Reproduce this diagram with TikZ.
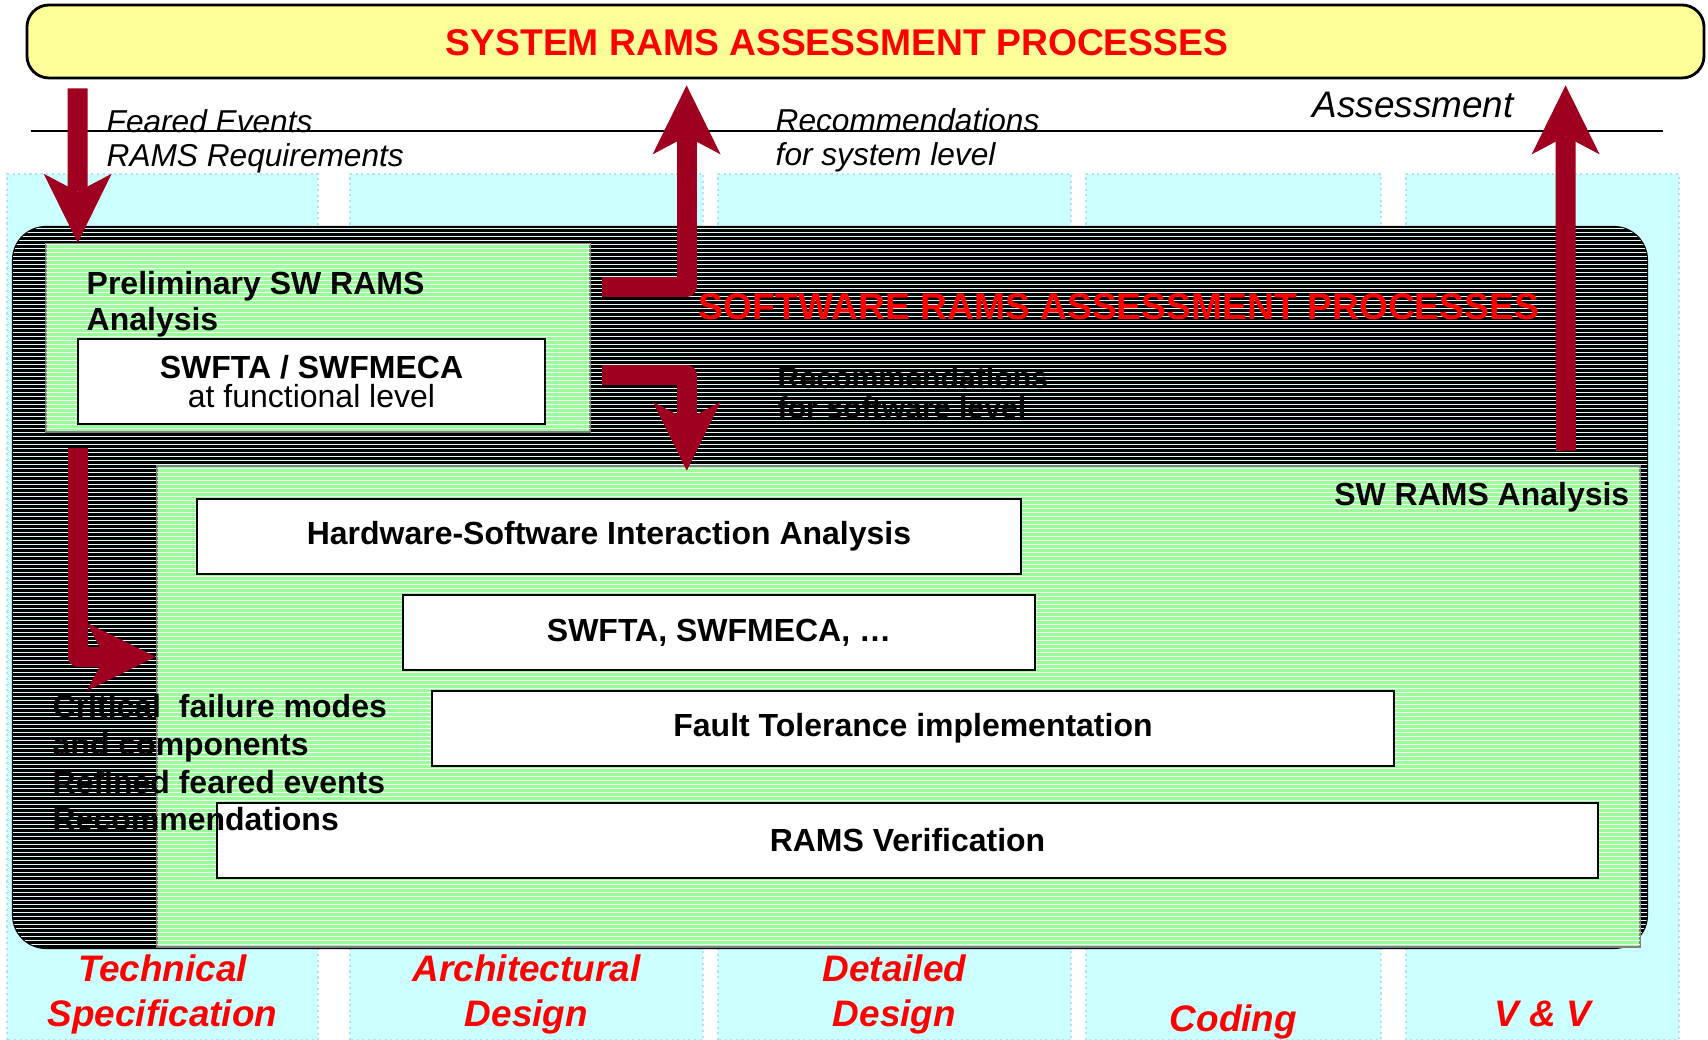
\documentclass[tikz,border=0pt]{standalone}
\usepackage{fontspec}
\setmainfont{Liberation Sans}
\usepackage{tikz}
\usetikzlibrary{arrows.meta,patterns.meta}
\definecolor{sysyellow}{HTML}{FFFF99}
\definecolor{phasecyan}{HTML}{CCFFFF}
\definecolor{phaseedge}{HTML}{B4DCFF}
\definecolor{swgreen}{HTML}{99FF99}
\definecolor{hatchline}{HTML}{DDFFFF}
\definecolor{arrowred}{HTML}{A00020}
\definecolor{titlered}{HTML}{FF0000}
\newcommand{\bodysize}{\fontsize{9.1pt}{10.8pt}\selectfont}
\newcommand{\titlesize}{\fontsize{10.6pt}{12.8pt}\selectfont}

\begin{document}
\begin{tikzpicture}[>=Stealth,
    phase/.style={fill=phasecyan,draw=phaseedge,densely dotted,line width=0.6pt},
    phaselbl/.style={align=center,anchor=south,inner sep=0pt,text depth=0pt,text=titlered,font=\fontsize{10.5pt}{12.8pt}\selectfont\bfseries\itshape},
    sysbox/.style={draw=black,line width=0.8pt,fill=sysyellow,rounded corners=0.22cm,minimum width=16.77cm,minimum height=0.73cm,inner sep=0pt},
    procbox/.style={draw=black,line width=0.6pt,fill=black,rounded corners=0.33cm,inner sep=0pt,
      postaction={pattern={Lines[angle=0,distance=1.138pt,line width=0.2pt]},pattern color=hatchline}},
    greenbox/.style={draw=gray,line width=0.7pt,fill=swgreen,inner sep=0pt,
      postaction={pattern={Lines[angle=0,distance=1.138pt,line width=0.22pt]},pattern color=white}},
    box/.style={draw=black,line width=0.7pt,fill=white,minimum height=0.75cm,inner sep=0pt,font=\bodysize\bfseries},
    bigtitle/.style={text=titlered,font=\titlesize\bfseries,inner sep=0pt,anchor=base},
    remark/.style={font=\fontsize{9pt}{9.7pt}\selectfont\itshape,align=left,anchor=base west,inner sep=0pt},
    bold/.style={font=\bodysize\bfseries,inner sep=0pt},
    blockarrow/.style={draw=arrowred,line width=0.2cm,line join=round,
      -{Stealth[length=0.69cm,width=0.68cm,inset=0.18cm,line width=0pt]}}]
  \useasboundingbox (0,0) rectangle (17.08,10.40);
  \foreach \xa/\xb/\yb/\lbl [count=\i] in {0.07/3.18/0.13/{Technical\\Specification},3.50/7.03/0.13/{Architectural\\Design},
      7.18/10.71/0.13/{Detailed\\Design},10.86/13.81/0.08/Coding,14.06/16.79/0.13/{V \& V}}{
    \draw[phase] (\xa,0) rectangle (\xb,8.66);
    \node[phaselbl] (phase\i) at ({(\xa+\xb)/2},\yb) {\lbl};
  }
  \node[sysbox] (sysbar) at (8.655,9.985) {};
  \node[bigtitle] (systitle) at (8.37,9.84) {SYSTEM RAMS ASSESSMENT PROCESSES};
  \draw[line width=0.6pt] (0.31,9.09) -- (16.63,9.09);
  \node[remark] (feared) at (1.06,8.73) {Feared Events\\RAMS Requirements};
  \node[remark] (recsys) at (7.75,8.74) {Recommendations\\for system level};
  \node[remark,font=\fontsize{10.5pt}{12pt}\selectfont\itshape,anchor=base] (assess) at (14.13,9.22) {Assessment};

  \node[procbox,minimum width=16.34cm,minimum height=7.21cm] (swproc) at (8.30,4.525) {};
  \node[bigtitle] (swtitle) at (11.19,7.20) {SOFTWARE RAMS ASSESSMENT PROCESSES};
  \node[bold,align=left,anchor=base west,font=\fontsize{8.6pt}{8.8pt}\selectfont\bfseries] (recsw) at (7.77,6.21) {Recommendations\\for software level};
  \node[greenbox,minimum width=5.44cm,minimum height=1.88cm] (prelim) at (3.18,7.02) {};
  \node[bold,align=left,anchor=base west,font=\fontsize{9.1pt}{10.5pt}\selectfont\bfseries] (prelimlbl) at (0.86,7.09) {Preliminary SW RAMS\\Analysis};
  \node[box,minimum width=4.67cm,minimum height=0.85cm,align=center,font=\fontsize{9.1pt}{8.25pt}\selectfont] (fnlevel) at (3.115,6.585) {\textbf{SWFTA / SWFMECA}\\at functional level};

  \node[greenbox,minimum width=14.83cm,minimum height=4.81cm] (swana) at (8.985,3.335) {};
  \node[bold,anchor=base east] (swanalbl) at (16.30,5.34) {SW RAMS Analysis};
  \node[box,minimum width=8.24cm] (hwsw) at (6.09,5.035) {Hardware-Software Interaction Analysis};
  \node[box,minimum width=6.32cm] (swfta) at (7.19,4.075) {SWFTA, SWFMECA, …};
  \node[box,minimum width=9.62cm] (ftimpl) at (9.13,3.115) {Fault Tolerance implementation};
  \node[box,minimum width=13.81cm] (ramsver) at (9.075,1.995) {RAMS Verification};
  \node[bold,align=left,anchor=base west] (critical) at (0.52,2.09) {Critical\ \ failure modes\\and components\\Refined feared events\\Recommendations};

  \draw[blockarrow] ([shift={(0.52,-0.09)}]sysbar.south west) -- ([xshift=0.33cm]prelim.north west);
  \draw[blockarrow] ([shift={(0.11,-0.44)}]prelim.north east) -| ([shift={(6.61,-0.06)}]sysbar.south west);
  \draw[blockarrow] ([shift={(0.11,-1.32)}]prelim.north east) -| ([shift={(5.31,-0.06)}]swana.north west);
  \draw[blockarrow] ([shift={(0.33,-0.15)}]prelim.south west) |- ([yshift=-1.92cm]swana.north west);
  \draw[blockarrow] ([shift={(14.10,0.14)}]swana.north west) -- ([shift={(15.40,-0.06)}]sysbar.south west);
\end{tikzpicture}
\end{document}
